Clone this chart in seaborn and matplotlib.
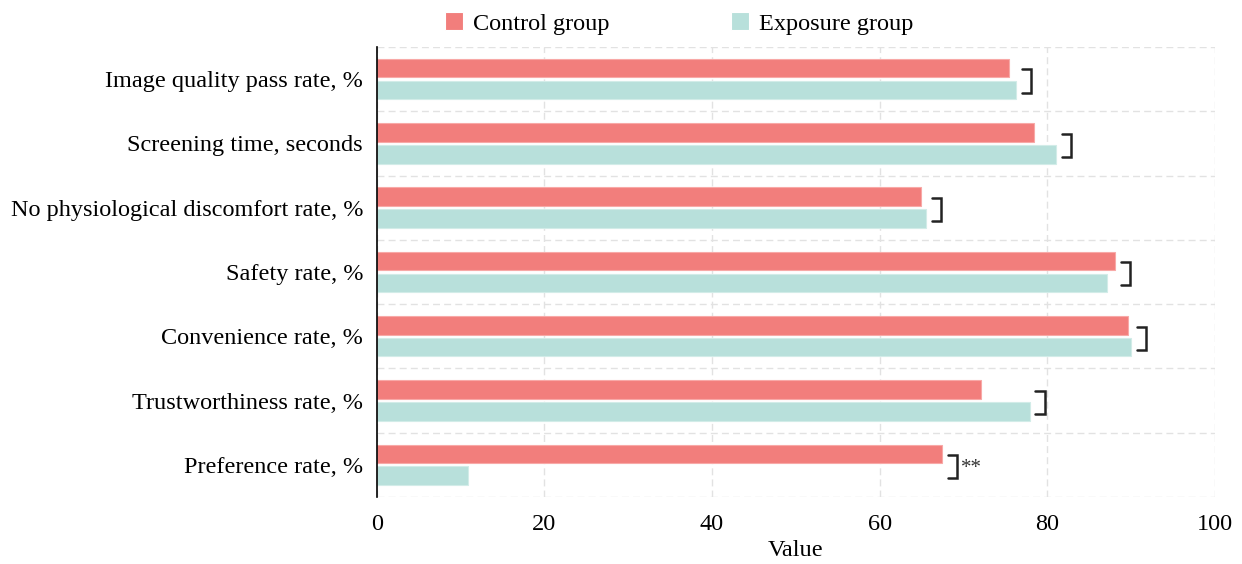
import numpy as np
import pandas as pd
import matplotlib
matplotlib.use('Agg')
import matplotlib.pyplot as plt
import seaborn as sns

categories = ['Image quality pass rate, %', 'Screening time, seconds',
              'No physiological discomfort rate, %', 'Safety rate, %',
              'Convenience rate, %', 'Trustworthiness rate, %', 'Preference rate, %']
control = [75.4, 78.4, 64.9, 88.1, 89.7, 72.1, 67.5]
exposure = [76.3, 81.1, 65.5, 87.1, 90.0, 77.9, 10.9]
groups = ['Control group', 'Exposure group']
signif = ['', '', '', '', '', '', '**']
colors = ['#F27E7C', '#B8E0DB']
edges = ['#F8A9A7', '#D2ECE8']

df = pd.DataFrame({
    'category': categories * 2,
    'value': control + exposure,
    'group': [groups[0]] * len(categories) + [groups[1]] * len(categories),
})

sns.set_style('white')
plt.rcParams['font.family'] = ['Liberation Serif', 'DejaVu Serif']
plt.rcParams['font.size'] = 17.5
plt.rcParams['text.color'] = 'black'
plt.rcParams['axes.labelcolor'] = 'black'
plt.rcParams['xtick.color'] = 'black'
plt.rcParams['ytick.color'] = 'black'

fig = plt.figure(figsize=(12.42, 5.64), dpi=100)
ax = fig.add_axes([0.3035, 0.1188, 0.6745, 0.7979])

width = 0.68
sns.barplot(data=df, x='value', y='category', hue='group', orient='h',
            palette=colors, saturation=1, width=width, gap=0.15, ax=ax,
            linewidth=0.8, edgecolor='white')
for p, col in zip(ax.patches, [edges[0]] * 7 + [edges[1]] * 7):
    p.set_edgecolor(col)

# brackets between the pair of bars
off = width / 4
for i, (c, e) in enumerate(zip(control, exposure)):
    xb = max(c, e) + 1.8
    ax.plot([xb - 1.1, xb, xb, xb - 1.1], [i - off + 0.02, i - off + 0.02, i + off + 0.04, i + off + 0.04],
            color='#222222', lw=1.8, solid_joinstyle='miter', clip_on=False)
    if signif[i]:
        ax.text(xb + 0.4, i + 0.06, signif[i], ha='left', va='center', fontsize=15, color='#333333')

ax.set_xlim(0, 100)
ax.set_ylim(6.5, -0.5)
ax.set_xticks([0, 20, 40, 60, 80, 100])
ax.set_yticks(np.arange(-0.5, 7, 1), minor=True)
ax.grid(axis='x', which='major', color='#e2e2e2', linestyle=(0, (5, 3)), lw=1)
ax.grid(axis='y', which='minor', color='#e2e2e2', linestyle=(0, (5, 3)), lw=1)
ax.grid(axis='y', which='major', visible=False)
ax.set_axisbelow(True)
ax.tick_params(axis='y', which='both', length=0, pad=10)
ax.tick_params(axis='x', length=0, pad=12)
for s in ['top', 'right', 'bottom']:
    ax.spines[s].set_visible(False)
ax.spines['left'].set_color('black')
ax.spines['left'].set_linewidth(1.2)
ax.set_ylabel('')
ax.set_xlabel('Value', labelpad=4)

handles, labels = ax.get_legend_handles_labels()
ax.legend_.remove()
fig.legend(handles, labels, loc='center', bbox_to_anchor=(0.547, 0.958), ncol=2,
           frameon=False, handlelength=0.75, handleheight=0.75, handletextpad=0.4,
           columnspacing=5.0, fontsize=17.5)

fig.savefig('out.png', dpi=100)
